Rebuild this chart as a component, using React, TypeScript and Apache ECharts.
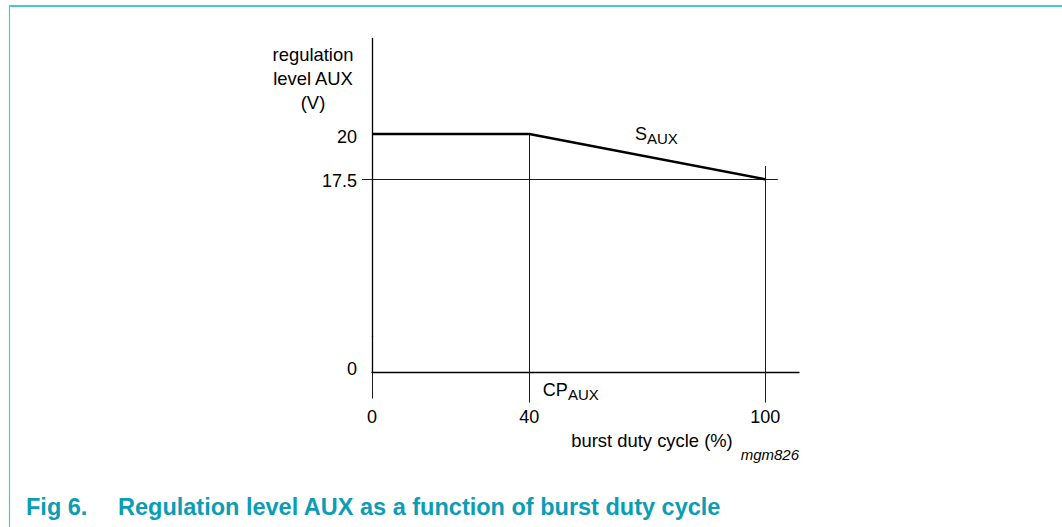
import React, { useEffect, useRef } from 'react';
import * as echarts from 'echarts';

// ---- data ----
const dutyCycle = [0, 40, 100]; // burst duty cycle (%)
const regulationLevel = [20, 20, 17.5]; // regulation level AUX (V)
const xTickValues = [0, 40, 100];
const yTickValues = [0, 17.5, 20];
const cpAux = 40;
const maxDuty = 100;
const minLevel = 17.5;
const topLevel = 20;
const xAxisMax = 108.6;
const yAxisMax = 25.28;
const guideEndX = 103.2;
const guideEndY = 18.23;

const FONT = '"Liberation Sans", Arial, Helvetica, sans-serif';
const INK = '#000000';
const THIN = '#1a1a1a';
const CAPTION = '#0a9db4';
const FRAME = '#4cc4d6';

export default function App() {
  const ref = useRef<HTMLDivElement>(null);

  useEffect(() => {
    document.body.style.margin = '0';
    if (!ref.current) return;
    const chart = echarts.init(ref.current, undefined, { renderer: 'svg' });

    const seriesData = dutyCycle.map((x, i) => [x, regulationLevel[i]]);

    const txt = (x: number, y: number, text: string, size: number, opts: any = {}) => ({
      type: 'text',
      x,
      y,
      silent: true,
      style: {
        text,
        fill: opts.fill || INK,
        fontSize: size,
        fontFamily: FONT,
        fontWeight: opts.bold ? 'bold' : 'normal',
        fontStyle: opts.italic ? 'italic' : 'normal',
        align: opts.align || 'left',
        textAlign: opts.align || 'left',
        verticalAlign: 'middle',
        textVerticalAlign: 'middle',
        lineHeight: opts.lineHeight,
      },
    });

    const labelTok = { fontSize: 18, fontFamily: FONT, color: INK };

    const option: any = {
      animation: false,
      backgroundColor: '#ffffff',
      grid: {
        left: 372,
        top: 38.3,
        width: 427,
        height: 334.2,
        containLabel: false,
        outerBoundsMode: 'none',
      },
      xAxis: [
        {
          type: 'value',
          min: 0,
          max: xAxisMax,
          axisLine: { show: true, onZero: false, lineStyle: { color: INK, width: 1.3 } },
          axisTick: { show: true, customValues: [cpAux, maxDuty], length: 30, lineStyle: { color: THIN, width: 1 } },
          axisLabel: {
            show: true,
            customValues: xTickValues,
            margin: 35,
            color: INK,
            fontSize: 18,
            fontFamily: FONT,
          },
          splitLine: { show: false },
        },
        {
          type: 'value',
          min: 0,
          max: xAxisMax,
          position: 'bottom',
          offset: 4.5,
          axisLine: { show: false },
          axisTick: { show: true, customValues: [0], length: 26, lineStyle: { color: THIN, width: 1 } },
          axisLabel: { show: false },
          splitLine: { show: false },
        },
      ],
      yAxis: {
        type: 'value',
        min: 0,
        max: yAxisMax,
        breaks: [{ start: 2, end: 8.84, gap: 0 }],
        breakArea: { show: false },
        axisLine: { show: true, onZero: false, lineStyle: { color: INK, width: 1.3 } },
        axisTick: { show: true, customValues: [minLevel], length: 10, lineStyle: { color: THIN, width: 1 } },
        axisLabel: {
          show: true,
          customValues: yTickValues,
          margin: 15,
          color: INK,
          fontSize: 18,
          fontFamily: FONT,
          formatter: (v: number) => (v === 0 ? '{up|0}' : v === 20 ? '{dn|' + v + '}' : '{dm|' + v + '}'),
          rich: {
            up: { ...labelTok, padding: [0, 0, 8, 0] },
            dn: { ...labelTok, padding: [7, 0, 0, 0] },
            dm: { ...labelTok, padding: [4, 0, 0, 0] },
          },
        },
        splitLine: { show: false },
      },
      series: [
        {
          type: 'line',
          data: seriesData,
          showSymbol: false,
          symbol: 'none',
          silent: true,
          z: 5,
          lineStyle: { color: INK, width: 2.5 },
          markLine: {
            silent: true,
            symbol: ['none', 'none'],
            label: { show: false },
            emphasis: { disabled: true },
            lineStyle: { color: THIN, width: 1, type: 'solid' },
            data: [
              [{ coord: [cpAux, 0] }, { coord: [cpAux, topLevel] }],
              [{ coord: [maxDuty, 0] }, { coord: [maxDuty, guideEndY] }],
              [{ coord: [0, minLevel] }, { coord: [guideEndX, minLevel] }],
            ],
          },
        },
      ],
      graphic: [
        { type: 'line', silent: true, shape: { x1: 9, y1: 6, x2: 1062, y2: 6 }, style: { stroke: FRAME, lineWidth: 2 } },
        { type: 'line', silent: true, shape: { x1: 9.5, y1: 6, x2: 9.5, y2: 527 }, style: { stroke: FRAME, lineWidth: 1.2 } },
        txt(313, 78.8, 'regulation\nlevel AUX\n(V)', 18.4, { align: 'center', lineHeight: 24 }),
        txt(652, 440, 'burst duty cycle (%)', 18.4, { align: 'center' }),
        txt(799, 454, 'mgm826', 15, { align: 'right', italic: true }),
        txt(635, 134, 'S', 18),
        txt(647, 138.3, 'AUX', 15),
        txt(542.7, 389.5, 'CP', 18),
        txt(568, 394, 'AUX', 15),
        txt(26, 507, 'Fig 6.', 23.5, { bold: true, fill: CAPTION }),
        txt(118, 507, 'Regulation level AUX as a function of burst duty cycle', 23.5, { bold: true, fill: CAPTION }),
      ],
    };

    chart.setOption(option);
    return () => chart.dispose();
  }, []);

  return <div ref={ref} style={{ width: 1062, height: 527 }} />;
}
